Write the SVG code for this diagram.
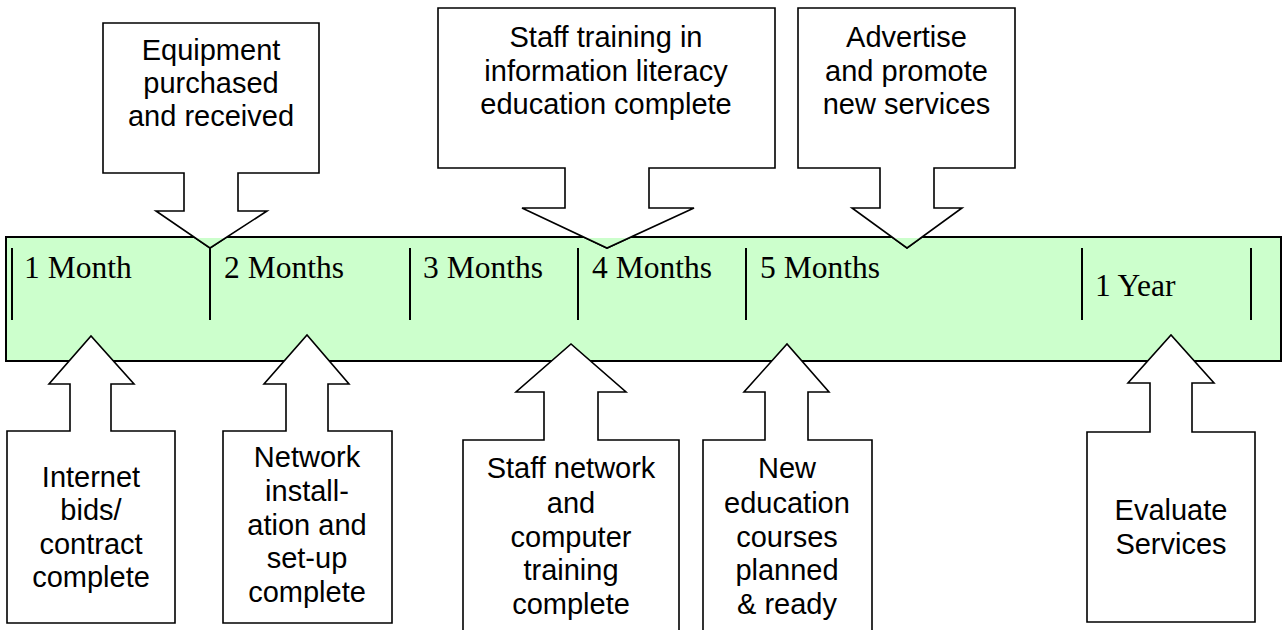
<svg xmlns="http://www.w3.org/2000/svg" width="1285" height="630" viewBox="0 0 1285 630">
<style>
.bg{fill:#ffffff}
.bar{fill:#CCFFCC;stroke:#000;stroke-width:2}
.tick{stroke:#000;stroke-width:2}
.call{fill:#fff;stroke:#000;stroke-width:1.6;stroke-linejoin:miter}
.tipin{fill:#CCFFCC;stroke:#000;stroke-width:1.6}
.lab{font-family:"Liberation Sans",Arial,sans-serif;font-size:29px;fill:#000;text-anchor:middle}
.tl{font-family:"Liberation Serif","Times New Roman",serif;font-size:31.5px;fill:#000}
</style>
<defs>
<clipPath id="barclip"><rect x="7" y="238" width="1273" height="122"/></clipPath>
</defs>
<rect class="bg" x="0" y="0" width="1285" height="630"/>
<g id="timeline">
<rect class="bar" x="6" y="237" width="1275" height="124"/>
<line class="tick" x1="12" y1="248" x2="12" y2="320"/>
<line class="tick" x1="210" y1="248" x2="210" y2="320"/>
<line class="tick" x1="410" y1="248" x2="410" y2="320"/>
<line class="tick" x1="578" y1="248" x2="578" y2="320"/>
<line class="tick" x1="746" y1="248" x2="746" y2="320"/>
<line class="tick" x1="1082" y1="248" x2="1082" y2="320"/>
<line class="tick" x1="1251" y1="248" x2="1251" y2="320"/>
<text class="tl" x="24" y="278">1 Month</text>
<text class="tl" x="224" y="278">2 Months</text>
<text class="tl" x="423" y="278">3 Months</text>
<text class="tl" x="592" y="278">4 Months</text>
<text class="tl" x="760" y="278">5 Months</text>
<text class="tl" x="1095" y="296">1 Year</text>
</g>
<g id="equipment">
<path class="call" d="M103 23 H319 V173 H238 V211 H267 L210 248 L156 211 H184 V173 H103 Z"/>
<polygon class="tipin" clip-path="url(#barclip)" points="156,211 210,248 267,211"/>
<text class="lab" x="211" y="60">Equipment</text>
<text class="lab" x="211" y="93">purchased</text>
<text class="lab" x="211" y="126">and received</text>
</g>
<g id="staff-training">
<path class="call" d="M438 8 H775 V168 H649 V208 H694 L607 248 L522 208 H565 V168 H438 Z"/>
<polygon class="tipin" clip-path="url(#barclip)" points="522,208 607,248 694,208"/>
<text class="lab" x="606" y="47">Staff training in</text>
<text class="lab" x="606" y="80.5">information literacy</text>
<text class="lab" x="606" y="114">education complete</text>
</g>
<g id="advertise">
<path class="call" d="M798 8 H1015 V168 H934 V208 H962 L907 248 L852 208 H880 V168 H798 Z"/>
<polygon class="tipin" clip-path="url(#barclip)" points="852,208 907,248 962,208"/>
<text class="lab" x="906.5" y="47">Advertise</text>
<text class="lab" x="906.5" y="80.5">and promote</text>
<text class="lab" x="906.5" y="114">new services</text>
</g>
<g id="internet">
<path class="call" d="M7 623 V431 H70 V384 H49 L91 336 L134 384 H111 V431 H175 V623 Z"/>
<text class="lab" x="91" y="487">Internet</text>
<text class="lab" x="91" y="520">bids/</text>
<text class="lab" x="91" y="554">contract</text>
<text class="lab" x="91" y="587">complete</text>
</g>
<g id="network">
<path class="call" d="M223 623 V431 H286 V384 H264 L307 335 L349 384 H328 V431 H392 V623 Z"/>
<text class="lab" x="307" y="467">Network</text>
<text class="lab" x="307" y="501">install-</text>
<text class="lab" x="307" y="535">ation and</text>
<text class="lab" x="307" y="568">set-up</text>
<text class="lab" x="307" y="602">complete</text>
</g>
<g id="staff-network">
<path class="call" d="M463 640 V440 H544 V392 H516 L571 344 L626 392 H598 V440 H679 V640 Z"/>
<text class="lab" x="571" y="478">Staff network</text>
<text class="lab" x="571" y="512.5">and</text>
<text class="lab" x="571" y="546.5">computer</text>
<text class="lab" x="571" y="580">training</text>
<text class="lab" x="571" y="613.5">complete</text>
</g>
<g id="new-education">
<path class="call" d="M703 640 V440 H765 V392 H744 L787 344 L829 392 H808 V440 H872 V640 Z"/>
<text class="lab" x="787" y="478">New</text>
<text class="lab" x="787" y="512.5">education</text>
<text class="lab" x="787" y="546.5">courses</text>
<text class="lab" x="787" y="580">planned</text>
<text class="lab" x="787" y="613.5">&amp; ready</text>
</g>
<g id="evaluate">
<path class="call" d="M1087 622 V432 H1150 V383 H1128 L1171 335 L1214 383 H1192 V432 H1255 V622 Z"/>
<text class="lab" x="1171" y="520">Evaluate</text>
<text class="lab" x="1171" y="553.5">Services</text>
</g>
</svg>
